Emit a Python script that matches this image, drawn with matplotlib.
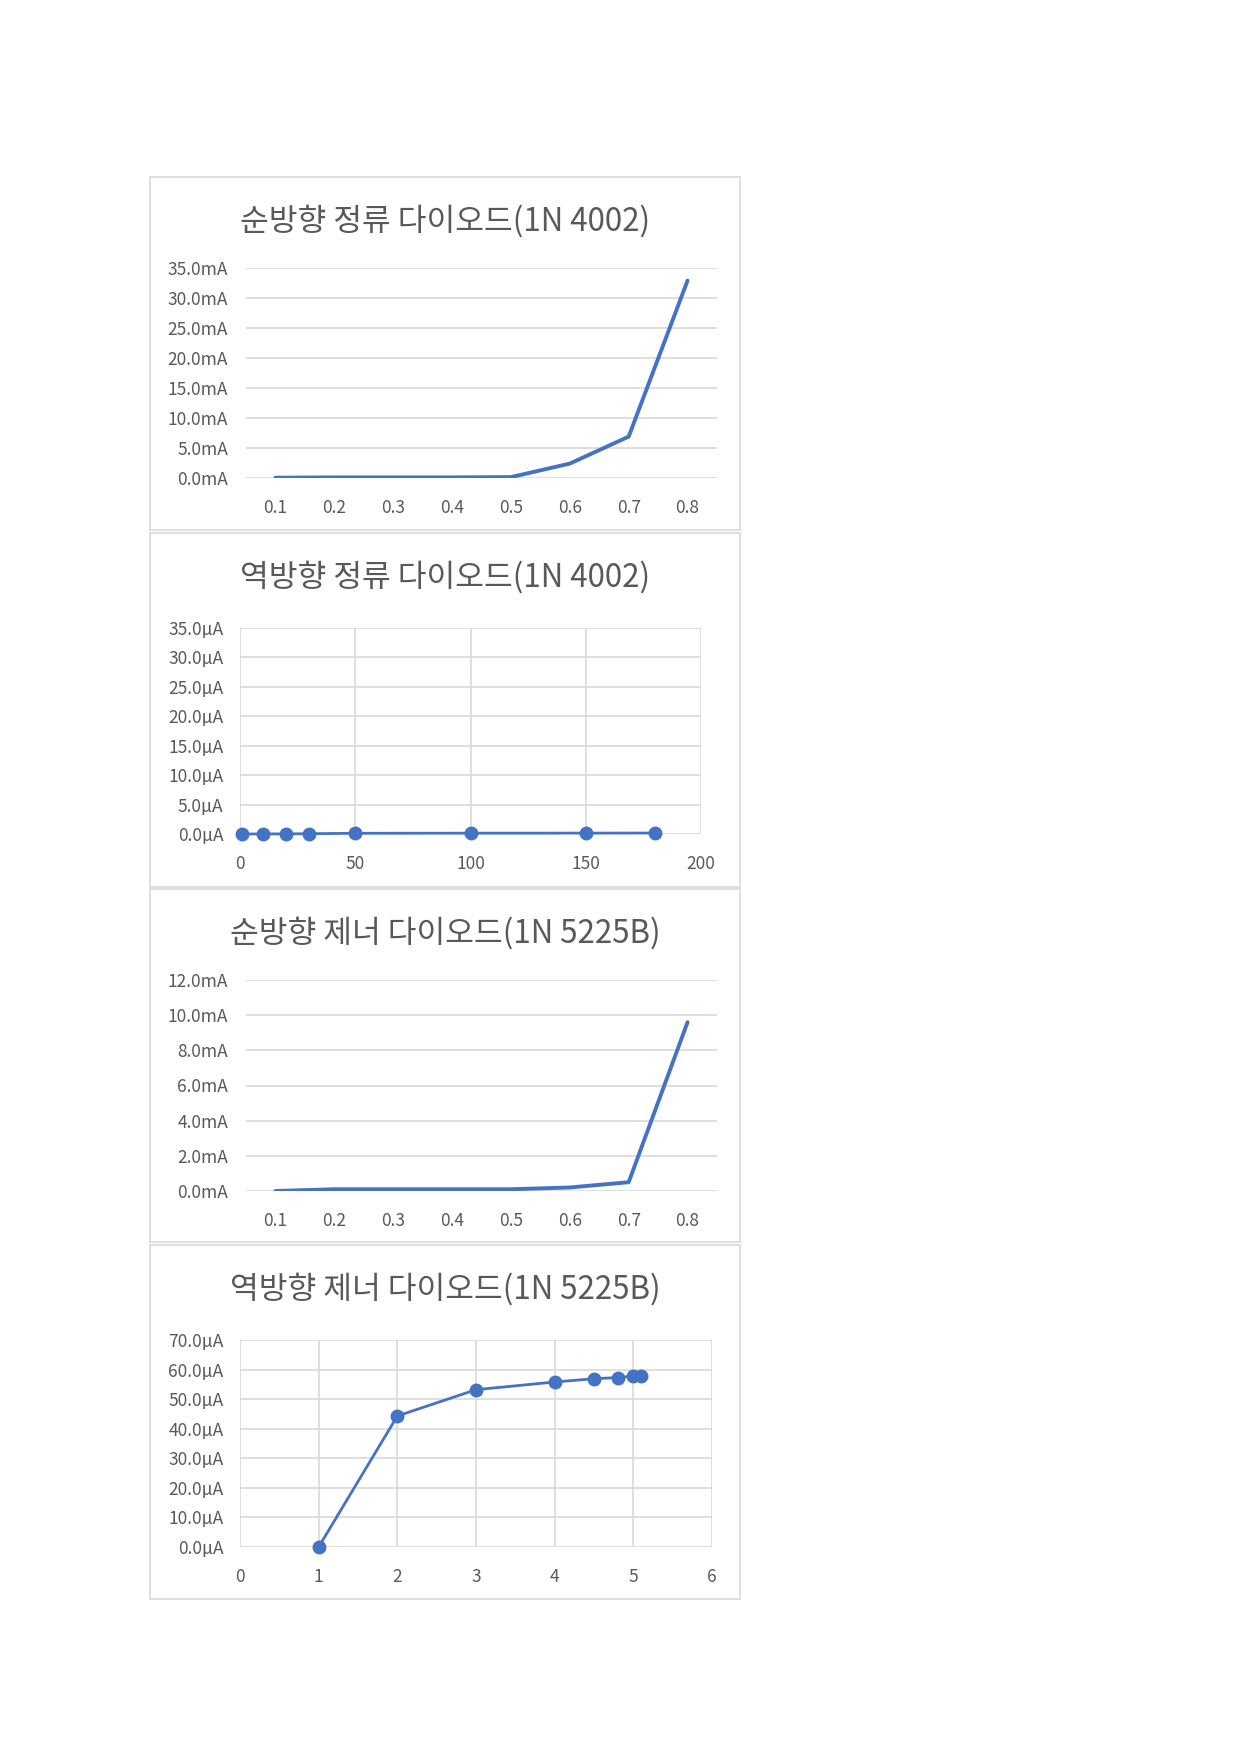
import matplotlib
matplotlib.use("Agg")
import matplotlib.pyplot as plt
from matplotlib.patches import Rectangle
import numpy as np

plt.rcParams['font.family'] = ['Noto Sans CJK KR', 'DejaVu Sans']

W, H = 1241, 1755
BLUE = '#4472C4'
GRID = '#d9d9d9'
TXT = '#595959'

# chart 1 - forward rectifier
fwd_rect_v = ['0.1', '0.2', '0.3', '0.4', '0.5', '0.6', '0.7', '0.8']
fwd_rect_ma = [0.05, 0.1, 0.1, 0.1, 0.15, 2.4, 6.9, 32.9]

# chart 2 - reverse rectifier
rev_rect_v = [1, 10, 20, 30, 50, 100, 150, 180]
rev_rect_ua = [0.0, 0.01, 0.02, 0.05, 0.12, 0.14, 0.15, 0.16]

# chart 3 - forward zener
fwd_zen_v = ['0.1', '0.2', '0.3', '0.4', '0.5', '0.6', '0.7', '0.8']
fwd_zen_ma = [0.0, 0.1, 0.1, 0.1, 0.1, 0.2, 0.5, 9.6]

# chart 4 - reverse zener
rev_zen_v = [1, 2, 3, 4, 4.5, 4.8, 5, 5.1]
rev_zen_ua = [0.0, 44.3, 53.2, 55.8, 56.9, 57.3, 57.8, 57.8]

titles = ['순방향 정류 다이오드(1N 4002)', '역방향 정류 다이오드(1N 4002)',
          '순방향 제너 다이오드(1N 5225B)', '역방향 제너 다이오드(1N 5225B)']

fig = plt.figure(figsize=(W / 100, H / 100), dpi=100)


def px_rect(x0, y0, x1, y1):
    return [x0 / W, 1 - y1 / H, (x1 - x0) / W, (y1 - y0) / H]


def box(y0, y1, title, ty):
    fig.patches.append(Rectangle((150 / W, 1 - y1 / H), 590 / W, (y1 - y0) / H,
                                 transform=fig.transFigure, fill=False,
                                 edgecolor=GRID, linewidth=1.2))
    fig.text(445 / W, 1 - ty / H, title, ha='center', va='center',
             fontsize=22.5, color=TXT)


def style(ax, unit, ypad=13):
    for s in ax.spines.values():
        s.set_visible(False)
    ax.tick_params(length=0, labelsize=12.5, labelcolor=TXT)
    ax.tick_params(axis='x', pad=15)
    ax.tick_params(axis='y', pad=ypad)
    ax.set_axisbelow(True)
    ax.yaxis.set_major_formatter(lambda v, p: f'{v:.1f}{unit}')


# chart 1
box(177, 530, titles[0], 221)
ax = fig.add_axes(px_rect(246, 268, 717, 478))
x = np.arange(len(fwd_rect_v))
ax.plot(x, fwd_rect_ma, color=BLUE, linewidth=2.8, solid_capstyle='round')
ax.set_xlim(-0.5, len(x) - 0.5)
ax.set_ylim(0, 35)
ax.set_yticks(np.arange(0, 36, 5))
ax.set_xticks(x, fwd_rect_v)
ax.grid(axis='y', color=GRID, linewidth=1.2)
style(ax, 'mA')

# chart 2
box(533, 887, titles[1], 577)
ax = fig.add_axes(px_rect(240, 628, 701, 834))
ax.plot(rev_rect_v, rev_rect_ua, color=BLUE, linewidth=2.0, marker='o',
        markersize=9, clip_on=False, zorder=3)
ax.set_xlim(0, 200)
ax.set_ylim(0, 35)
ax.set_yticks(np.arange(0, 36, 5))
ax.set_xticks(np.arange(0, 201, 50))
ax.grid(color=GRID, linewidth=1.2)
style(ax, 'µA', ypad=12)
ax.xaxis.set_major_formatter(lambda v, p: f'{v:.0f}')

# chart 3
box(889, 1242, titles[2], 933)
ax = fig.add_axes(px_rect(246, 980, 717, 1191))
x = np.arange(len(fwd_zen_v))
ax.plot(x, fwd_zen_ma, color=BLUE, linewidth=2.8, solid_capstyle='round')
ax.set_xlim(-0.5, len(x) - 0.5)
ax.set_ylim(0, 12)
ax.set_yticks(np.arange(0, 13, 2))
ax.set_xticks(x, fwd_zen_v)
ax.grid(axis='y', color=GRID, linewidth=1.2)
style(ax, 'mA')

# chart 4
box(1245, 1599, titles[3], 1289)
ax = fig.add_axes(px_rect(240, 1340, 712, 1547))
ax.plot(rev_zen_v, rev_zen_ua, color=BLUE, linewidth=2.0, marker='o',
        markersize=9, clip_on=False, zorder=3)
ax.set_xlim(0, 6)
ax.set_ylim(0, 70)
ax.set_yticks(np.arange(0, 71, 10))
ax.set_xticks(np.arange(0, 7, 1))
ax.grid(color=GRID, linewidth=1.2)
style(ax, 'µA', ypad=12)
ax.xaxis.set_major_formatter(lambda v, p: f'{v:.0f}')

fig.savefig('out.png', dpi=100, facecolor='white')
